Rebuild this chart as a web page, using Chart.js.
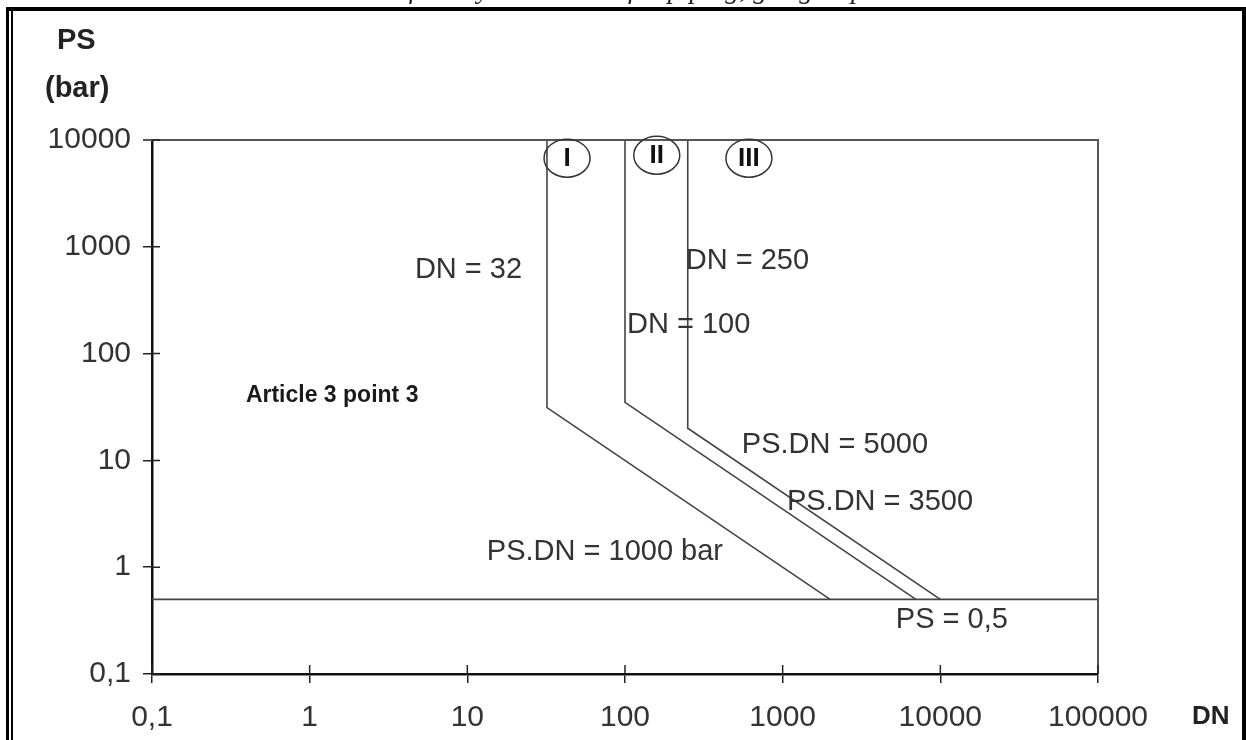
<!DOCTYPE html>
<html>
<head>
<meta charset="utf-8">
<script src="https://cdn.jsdelivr.net/npm/chart.js@4/dist/chart.umd.min.js"></script>
<style>
  body { margin: 0; background: #fff; }
  #wrap { position: relative; width: 1246px; height: 740px; overflow: hidden; background: #fff; }
  #grafico { position: absolute; left: 0; top: 0; }
  .borda { position: absolute; background: #000; }
  .rotulo { position: absolute; font-family: "Liberation Sans", Arial, sans-serif; font-weight: bold; color: #222; white-space: nowrap; }
  #titulo { position: absolute; right: 360px; top: -25px; white-space: nowrap; font-family: "Liberation Serif", "Times New Roman", serif; font-style: italic; font-size: 28px; line-height: 28px; color: #222; }
</style>
</head>
<body>
<div id="wrap">
  <canvas id="grafico" width="1246" height="740"></canvas>
  <div id="titulo">Table 6 – Conformity assessment for piping, gas group 1</div>
  <div class="borda" style="left:6px;top:7px;width:1240px;height:4px"></div>
  <div class="borda" style="left:6px;top:7px;width:3px;height:733px"></div>
  <div class="borda" style="left:11px;top:11px;width:2px;height:729px"></div>
  <div class="borda" style="left:1242px;top:7px;width:4px;height:733px"></div>
  <div class="rotulo" style="left:57px;top:23px;font-size:29px">PS</div>
  <div class="rotulo" style="left:45px;top:71px;font-size:29px">(bar)</div>
  <div class="rotulo" style="left:1192px;top:700px;font-size:26px">DN</div>
</div>
<script>
// eixos
const xTicks = [0.1, 1, 10, 100, 1000, 10000, 100000];
const xTickLabels = ['0,1', '1', '10', '100', '1000', '10000', '100000'];
const yTicks = [0.1, 1, 10, 100, 1000, 10000];
const yTickLabels = ['0,1', '1', '10', '100', '1000', '10000'];

// limites das categorias (DN, PS)
const dnCat1 = [32, 32, 2000];
const psCat1 = [10000, 31.25, 0.5];
const dnCat2 = [100, 100, 7000];
const psCat2 = [10000, 35, 0.5];
const dnCat3 = [250, 250, 10000];
const psCat3 = [10000, 20, 0.5];
const dnLimite = [0.1, 100000];
const psLimite = [0.5, 0.5];

// textos sobre o grafico
const textos = [
    {texto: 'DN = 32', dn: 4.65, ps: 604},
    {texto: 'DN = 250', dn: 243, ps: 733},
    {texto: 'DN = 100', dn: 103, ps: 184},
    {texto: 'PS.DN = 5000', dn: 551, ps: 13.9},
    {texto: 'PS.DN = 3500', dn: 1064, ps: 4.06},
    {texto: 'PS.DN = 1000 bar', dn: 13.3, ps: 1.38},
    {texto: 'PS = 0,5', dn: 5224, ps: 0.319},
    {texto: 'Article 3 point 3', dn: 0.394, ps: 40, negrito: true}
];
const categorias = [
    {texto: 'I', dn: 42.9, ps: 6760},
    {texto: 'II', dn: 159, ps: 7200},
    {texto: 'III', dn: 611, ps: 6760}
];

function pontos(xs, ys) {
    return xs.map((x, i) => ({x: x, y: ys[i]}));
}

function linha(xs, ys) {
    return {
        data: pontos(xs, ys),
        borderColor: '#444',
        borderWidth: 1.6,
        pointRadius: 0,
        tension: 0,
        fill: false
    };
}

const FONTE = '"Liberation Sans", Arial, sans-serif';

const moldura = {
    id: 'moldura',
    afterDatasetsDraw(chart) {
        const ctx = chart.ctx;
        const a = chart.chartArea;
        const sx = chart.scales.x;
        const sy = chart.scales.y;
        ctx.save();
        // caixa (topo e direita)
        ctx.strokeStyle = '#555';
        ctx.lineWidth = 2;
        ctx.beginPath();
        ctx.moveTo(a.left - 9, a.top);
        ctx.lineTo(a.right, a.top);
        ctx.lineTo(a.right, a.bottom);
        ctx.stroke();
        // marcas internas dos eixos
        ctx.strokeStyle = '#222';
        ctx.lineWidth = 1.5;
        ctx.beginPath();
        yTicks.forEach(v => {
            const py = sy.getPixelForValue(v);
            ctx.moveTo(a.left, py);
            ctx.lineTo(a.left + 8, py);
        });
        xTicks.forEach(v => {
            const px = sx.getPixelForValue(v);
            ctx.moveTo(px, a.bottom);
            ctx.lineTo(px, a.bottom - 9);
        });
        ctx.stroke();

        // textos
        ctx.textBaseline = 'middle';
        ctx.textAlign = 'left';
        textos.forEach(t => {
            ctx.font = t.negrito ? 'bold 23px ' + FONTE : '29px ' + FONTE;
            ctx.fillStyle = t.negrito ? '#1a1a1a' : '#333';
            ctx.fillText(t.texto, sx.getPixelForValue(t.dn), sy.getPixelForValue(t.ps));
        });

        // categorias circuladas
        ctx.textAlign = 'center';
        categorias.forEach(c => {
            const px = sx.getPixelForValue(c.dn);
            const py = sy.getPixelForValue(c.ps);
            ctx.strokeStyle = '#333';
            ctx.lineWidth = 1.5;
            ctx.beginPath();
            ctx.ellipse(px, py, 23, 19, 0, 0, Math.PI * 2);
            ctx.stroke();
            ctx.font = 'bold 26px ' + FONTE;
            ctx.fillStyle = '#111';
            ctx.fillText(c.texto, px, py + 1);
        });
        ctx.restore();
    }
};

const ctx = document.getElementById('grafico').getContext('2d');

const grafico = new Chart(ctx, {
    type: 'line',
    data: {
        datasets: [
            linha(dnCat1, psCat1),
            linha(dnCat2, psCat2),
            linha(dnCat3, psCat3),
            linha(dnLimite, psLimite)
        ]
    },
    options: {
        responsive: false,
        devicePixelRatio: 1,
        animation: false,
        layout: {
            padding: {left: 0, top: 140, right: 148, bottom: 0}
        },
        plugins: {
            legend: {display: false},
            tooltip: {enabled: false}
        },
        scales: {
            x: {
                type: 'logarithmic',
                min: 0.1,
                max: 100000,
                afterBuildTicks: s => { s.ticks = xTicks.map(v => ({value: v})); },
                afterFit: s => { s.height = 66; },
                grid: {drawOnChartArea: false, tickLength: 9, color: '#222', lineWidth: 1.5},
                border: {color: '#111', width: 2.5},
                ticks: {
                    autoSkip: false,
                    maxRotation: 0,
                    padding: 17,
                    color: '#333',
                    font: {family: FONTE, size: 30},
                    callback: (v, i) => xTickLabels[i]
                }
            },
            y: {
                type: 'logarithmic',
                min: 0.1,
                max: 10000,
                afterBuildTicks: s => { s.ticks = yTicks.map(v => ({value: v})); },
                afterFit: s => { s.width = 152; },
                grid: {drawOnChartArea: false, tickLength: 9, color: '#222', lineWidth: 1.5},
                border: {color: '#111', width: 2.5},
                ticks: {
                    autoSkip: false,
                    padding: 12,
                    color: '#333',
                    font: {family: FONTE, size: 30},
                    callback: (v, i) => yTickLabels[i]
                }
            }
        }
    },
    plugins: [moldura]
});
</script>
</body>
</html>
